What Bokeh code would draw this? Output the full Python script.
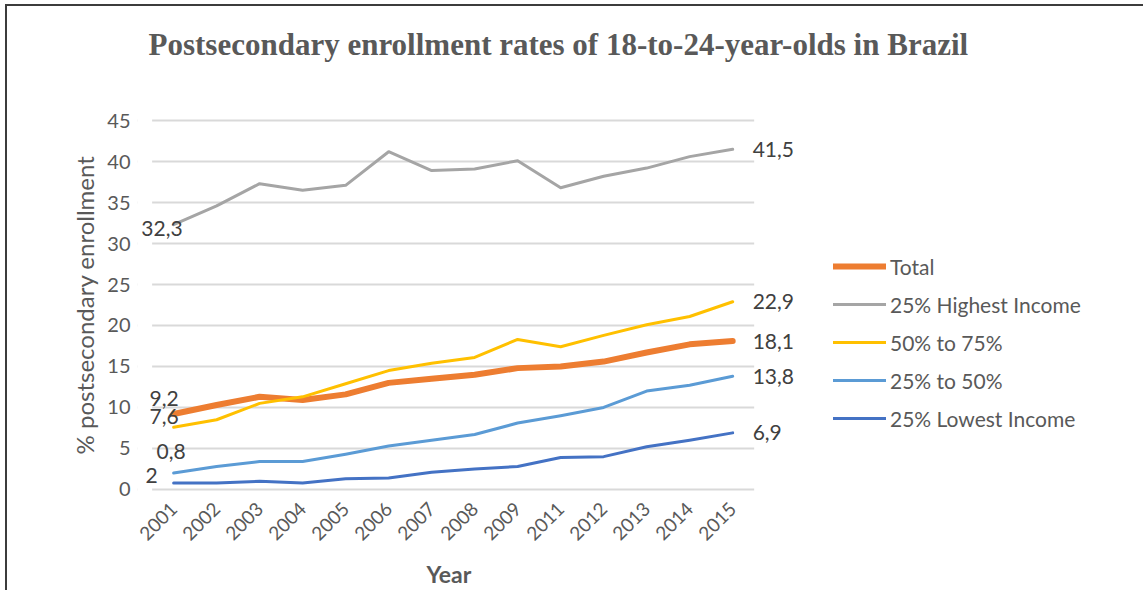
import math
from bokeh.plotting import figure
from bokeh.models import (Range1d, FixedTicker, Legend, LegendItem, Label,
                          Title, BoxAnnotation)
from bokeh.embed import file_html
from bokeh.resources import INLINE

# ---------------- data ----------------
years = ["2001", "2002", "2003", "2004", "2005", "2006", "2007", "2008",
         "2009", "2011", "2012", "2013", "2014", "2015"]
total = [9.2, 10.3, 11.3, 10.9, 11.6, 13.0, 13.5, 14.0, 14.8, 15.0, 15.6, 16.7, 17.7, 18.1]
highest = [32.3, 34.6, 37.3, 36.5, 37.1, 41.2, 38.9, 39.1, 40.1, 36.8, 38.2, 39.2, 40.6, 41.5]
q_50_75 = [7.6, 8.5, 10.5, 11.3, 12.9, 14.5, 15.4, 16.1, 18.3, 17.4, 18.8, 20.1, 21.1, 22.9]
q_25_50 = [2.0, 2.8, 3.4, 3.4, 4.3, 5.3, 6.0, 6.7, 8.1, 9.0, 10.0, 12.0, 12.7, 13.8]
lowest = [0.8, 0.8, 1.0, 0.8, 1.3, 1.4, 2.1, 2.5, 2.8, 3.9, 4.0, 5.2, 6.0, 6.9]
series_names = ["Total", "25% Highest Income", "50% to 75%", "25% to 50%", "25% Lowest Income"]
y_ticks = [0, 5, 10, 15, 20, 25, 30, 35, 40, 45]
title_text = "Postsecondary enrollment rates of 18-to-24-year-olds in Brazil"
x_title = "Year"
y_title = "% postsecondary enrollment"

series = [total, highest, q_50_75, q_25_50, lowest]
colors = ["#ED7D31", "#A5A5A5", "#FFC000", "#5B9BD5", "#4472C4"]
widths = [6, 3, 3, 3, 3]
xs = list(range(len(years)))

FONT = "Lato"
GREY = "#595959"
LABEL_GREY = "#404040"

# the frame spans the whole right-hand side so that legend and value labels sit inside it
p = figure(width=1138, height=586, output_backend="svg", toolbar_location=None,
           x_range=Range1d(-0.84, 22.6), y_range=Range1d(-0.25, 45.25),
           min_border_left=130, min_border_right=0, min_border_top=112,
           min_border_bottom=101)
p.styles = {"border-top": "2px solid #3c3c3c", "border-left": "2px solid #3c3c3c",
            "margin-top": "4px", "margin-left": "5px"}
p.outline_line_color = None
p.background_fill_color = "white"
p.border_fill_color = "white"

# title, held away from the frame by a blank spacer panel (first added = nearest the frame)
spacer_top = Title(text=" ", text_color="white", text_font_size="10px", standoff=44)
main_title = Title(text=title_text, text_font="Liberation Serif", text_font_style="bold",
                   text_font_size="31px", text_color=GREY, align="left", offset=11,
                   standoff=0)
p.add_layout(spacer_top, "above")
p.add_layout(main_title, "above")

# axes
p.xaxis.ticker = FixedTicker(ticks=xs)
p.xaxis.major_label_overrides = {i: y for i, y in enumerate(years)}
p.xaxis.major_label_orientation = math.pi / 4
p.xaxis.major_label_text_font = FONT
p.xaxis.major_label_text_font_size = "19px"
p.xaxis.major_label_text_color = GREY
p.xaxis.major_label_standoff = 8

spacer_bottom = Title(text=" ", text_color="white", text_font_size="5px", standoff=0)
year_title = Title(text=x_title, text_font=FONT, text_font_style="bold",
                   text_font_size="23px", text_color=GREY, align="left", offset=289,
                   standoff=0)
p.add_layout(spacer_bottom, "below")
p.add_layout(year_title, "below")

p.yaxis.ticker = FixedTicker(ticks=y_ticks)
p.yaxis.major_label_text_font = FONT
p.yaxis.major_label_text_font_size = "20px"
p.yaxis.major_label_text_color = GREY
p.yaxis.major_label_standoff = 1
p.yaxis.axis_label = y_title
p.yaxis.axis_label_text_font = FONT
p.yaxis.axis_label_text_font_style = "normal"
p.yaxis.axis_label_text_font_size = "24px"
p.yaxis.axis_label_text_color = GREY
p.yaxis.axis_label_standoff = 5

for ax in (p.xaxis[0], p.yaxis[0]):
    ax.axis_line_color = None
    ax.major_tick_line_color = None
    ax.minor_tick_line_color = None

p.xgrid.grid_line_color = None
p.ygrid.ticker = FixedTicker(ticks=y_ticks)
p.ygrid.grid_line_color = "#D9D9D9"
p.ygrid.grid_line_width = 2

# gridlines only run from half a category before the first year to half after the last
p.add_layout(BoxAnnotation(right=xs[0] - 0.5, fill_color="white", fill_alpha=1,
                           line_color=None, level="underlay"))
p.add_layout(BoxAnnotation(left=xs[-1] + 0.5, fill_color="white", fill_alpha=1,
                           line_color=None, level="underlay"))

# lines
renderers = []
for vals, col, w in zip(series, colors, widths):
    r = p.line(xs, vals, line_color=col, line_width=w, line_join="round", line_cap="round")
    renderers.append(r)

legend = Legend(items=[LegendItem(label=n, renderers=[r]) for n, r in zip(series_names, renderers)],
                location=(696, 58), orientation="vertical",
                label_text_font=FONT, label_text_font_size="21px", label_text_color=GREY,
                glyph_width=53, glyph_height=30, label_height=30, spacing=8,
                label_standoff=4, padding=10, margin=0,
                border_line_color=None, background_fill_alpha=0)
p.add_layout(legend, "center")

def fmt(v):
    return ("%g" % v).replace(".", ",")

# data labels at the start (2001)
start_idx = [1, 0, 2, 4, 3]
start_dx = [9, 5, 5, 12, -16]
start_dy = [-4, 16, 11, 31, -2]
for i, dx, dy in zip(start_idx, start_dx, start_dy):
    p.add_layout(Label(x=xs[0], y=series[i][0], text=fmt(series[i][0]),
                       x_offset=dx, y_offset=dy, text_align="right",
                       text_baseline="middle", text_font=FONT, text_font_size="21px",
                       text_color=LABEL_GREY))

# data labels at the end (2015)
for s in series:
    p.add_layout(Label(x=xs[-1], y=s[-1], text=fmt(s[-1]),
                       x_offset=20, y_offset=0, text_align="left",
                       text_baseline="middle", text_font=FONT, text_font_size="21px",
                       text_color=LABEL_GREY))

open("out.html", "w").write(file_html(p, INLINE))
